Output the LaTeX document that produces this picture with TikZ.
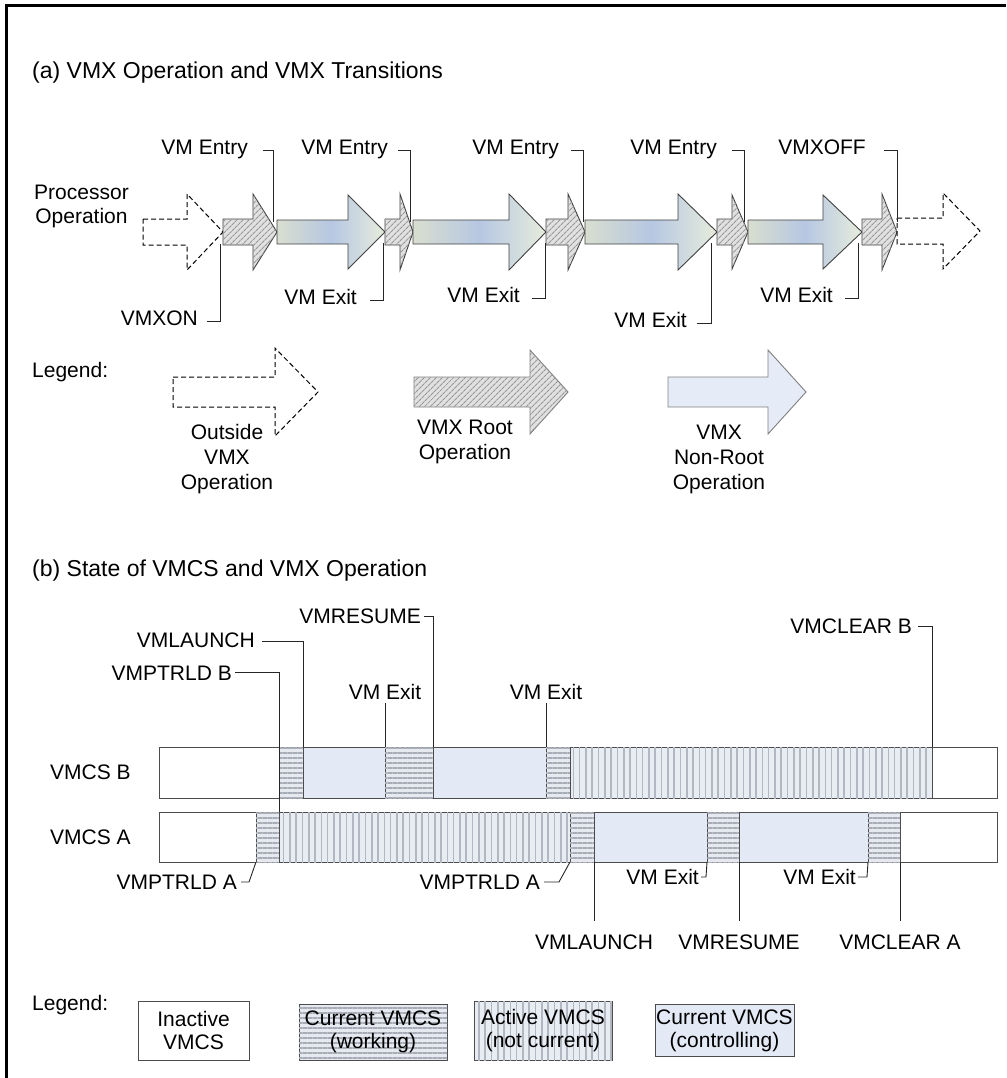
\documentclass[tikz,border=0pt]{standalone}
\usepackage{fontspec}
\setmainfont{Liberation Sans}
\usetikzlibrary{patterns.meta}
\definecolor{hatchbg}{HTML}{E1E1E1}
\definecolor{hatchln}{HTML}{989898}
\definecolor{hbg}{HTML}{E6EAF0}
\definecolor{hln}{HTML}{A8ACB6}
\definecolor{vbg}{HTML}{E8ECF3}
\definecolor{vln}{HTML}{B3B7C1}
\definecolor{ctrlblue}{HTML}{E3EAF5}
\definecolor{gradL}{HTML}{D8DECF}
\definecolor{gradM}{HTML}{B6C7E2}
\definecolor{gradR}{HTML}{E6ECDC}
\definecolor{nonroot}{HTML}{E6ECF7}
\newcommand{\blockarrow}[7]{\path[#1] (#2,#5-#6) -- (#3,#5-#6) -- (#3,#5-#7) -- (#4,#5) -- (#3,#5+#7) -- (#3,#5+#6) -- (#2,#5+#6) -- cycle;}
\newcommand{\barseg}[5]{\path[#1] (#2,#4) rectangle (#3,#5);}
\tikzset{
  lbl/.style={font=\fontsize{21}{24}\selectfont, inner sep=0pt, text height=15pt, text depth=0pt},
  mlbl/.style={font=\fontsize{21}{25}\selectfont, inner sep=0pt, align=center},
  ttl/.style={font=\fontsize{23}{27}\selectfont, inner sep=0pt, anchor=west, text height=16.5pt, text depth=0pt},
  leader/.style={draw=black!85, line width=0.9pt},
  dasharr/.style={draw=black, line width=1pt, dash pattern=on 5pt off 3pt, fill=white},
  hatcharr/.style={draw=black!75, line width=0.9pt, fill=hatchbg,
     postaction={pattern={Lines[angle=45,distance=4pt,line width=1.1pt]}, pattern color=hatchln}},
  hatchleg/.style={draw=black!50, line width=0.9pt, fill=hatchbg,
     postaction={pattern={Lines[angle=45,distance=4pt,line width=1.1pt]}, pattern color=hatchln}},
  gradarr/.style={draw=black!75, line width=0.9pt, left color=gradL, right color=gradR, middle color=gradM},
  nonrootarr/.style={draw=black!50, line width=0.9pt, fill=nonroot},
  wseg/.style={draw=black!70, line width=0.9pt, fill=white},
  hseg/.style={draw=black!70, line width=0.9pt, fill=hbg,
     postaction={pattern={Lines[angle=0,distance=5pt,line width=1.4pt]}, pattern color=hln}},
  vseg/.style={draw=black!70, line width=0.9pt, fill=vbg,
     postaction={pattern={Lines[angle=90,distance=6.3pt,line width=1.6pt]}, pattern color=vln}},
  bseg/.style={draw=black!70, line width=0.9pt, fill=ctrlblue},
  legbox/.style={draw=black!70, line width=0.9pt, minimum height=57pt, inner sep=0pt, align=center,
     font=\fontsize{21}{23}\selectfont},
}
\begin{document}
\begin{tikzpicture}[x=1pt,y=-1pt]
\useasboundingbox (0,0) rectangle (1006,1078);
\fill[white] (0,0) rectangle (1006,1078);
\draw[line width=2.5pt] (6.3,1078) -- (6.3,5.5) -- (1006,5.5);

% ---------------- (a) ----------------
\node[ttl] (ta) at (32,70) {(a) VMX Operation and VMX Transitions};

\blockarrow{dasharr}{143}{187}{223}{232}{13}{38}
\blockarrow{hatcharr}{223}{253}{277}{232}{13}{38}
\blockarrow{gradarr}{277}{348}{385}{232}{12}{37}
\blockarrow{hatcharr}{385}{400}{413}{232}{13}{38}
\blockarrow{gradarr}{413}{509}{546}{232}{12}{38}
\blockarrow{hatcharr}{546}{568}{585}{232}{13}{38}
\blockarrow{gradarr}{585}{678}{717}{232}{12}{38}
\blockarrow{hatcharr}{717}{732}{748}{232}{13}{37}
\blockarrow{gradarr}{748}{823}{862}{232}{12}{37}
\blockarrow{hatcharr}{862}{882}{897}{232}{13}{38}
\blockarrow{dasharr}{897}{943}{980}{231}{13}{38}

\node[mlbl, font=\fontsize{21}{24}\selectfont] (proc) at (81.5,206) {Processor\\Operation};

\node[lbl,anchor=east] (en1) at (248,147) {VM Entry};
\node[lbl,anchor=east] (en2) at (388,147) {VM Entry};
\node[lbl,anchor=east] (en3) at (559,147) {VM Entry};
\node[lbl,anchor=east] (en4) at (717,147) {VM Entry};
\node[lbl,anchor=east] (en5) at (866,147) {VMXOFF};
\coordinate (jn1) at (273,222);
\coordinate (jn2) at (410,222);
\coordinate (jn3) at (583,222);
\coordinate (jn4) at (744,222);
\coordinate (jn5) at (897,222);
\draw[leader] (en1.east) ++(15,3) -| (jn1);
\draw[leader] (en2.east) ++(10,3) -| (jn2);
\draw[leader] (en3.east) ++(12,3) -| (jn3);
\draw[leader] (en4.east) ++(15,3) -| (jn4);
\draw[leader] (en5.east) ++(18,3) -| (jn5);

\node[lbl,anchor=east] (xon) at (198,318) {VMXON};
\node[lbl,anchor=east] (ex1) at (357,297) {VM Exit};
\node[lbl,anchor=east] (ex2) at (520,295) {VM Exit};
\node[lbl,anchor=east] (ex3) at (687,320) {VM Exit};
\node[lbl,anchor=east] (ex4) at (833,295) {VM Exit};
\coordinate (jx0) at (220,244);
\coordinate (jx1) at (383,243);
\coordinate (jx2) at (545,243);
\coordinate (jx3) at (711,243);
\coordinate (jx4) at (858,243);
\draw[leader] (xon.east) ++(9,3) -| (jx0);
\draw[leader] (ex1.east) ++(13,3) -| (jx1);
\draw[leader] (ex2.east) ++(12,3) -| (jx2);
\draw[leader] (ex3.east) ++(10,3) -| (jx3);
\draw[leader] (ex4.east) ++(12,3) -| (jx4);

% legend (a)
\node[lbl,anchor=west] (lega) at (32,370) {Legend:};
\blockarrow{dasharr}{173}{275}{318}{392}{15}{44}
\blockarrow{hatchleg}{414}{530}{568}{392}{15}{42}
\blockarrow{nonrootarr}{668}{768}{806}{392}{15}{42}
\node[mlbl] (lo) at (227,459) {Outside\\VMX\\Operation};
\node[mlbl] (lr) at (465,441.5) {VMX Root\\Operation};
\node[mlbl] (ln) at (719,459) {VMX\\Non-Root\\Operation};

% ---------------- (b) ----------------
\node[ttl] (tb) at (32,568) {(b) State of VMCS and VMX Operation};

% VMCS B
\barseg{wseg}{159}{279}{747}{798}
\barseg{hseg}{279}{303}{747}{798}
\barseg{bseg}{303}{385}{747}{798}
\barseg{hseg}{385}{433}{747}{798}
\barseg{bseg}{433}{546}{747}{798}
\barseg{hseg}{546}{570}{747}{798}
\barseg{vseg}{570}{932}{747}{798}
\barseg{wseg}{932}{997}{747}{798}
% VMCS A
\barseg{wseg}{159}{256}{812}{862}
\barseg{hseg}{256}{279}{812}{862}
\barseg{vseg}{279}{570}{812}{862}
\barseg{hseg}{570}{594}{812}{862}
\barseg{bseg}{594}{707}{812}{862}
\barseg{hseg}{707}{739}{812}{862}
\barseg{bseg}{739}{868}{812}{862}
\barseg{hseg}{868}{900}{812}{862}
\barseg{wseg}{900}{997}{812}{862}

\node[lbl,anchor=west] (vb) at (50,772) {VMCS B};
\node[lbl,anchor=west] (va) at (50,837) {VMCS A};

% top labels (b)
\node[lbl,anchor=east] (res1) at (421,616) {VMRESUME};
\node[lbl,anchor=east] (lau1) at (255,640) {VMLAUNCH};
\node[lbl,anchor=east] (ptb) at (232,673) {VMPTRLD B};
\node[lbl] (vx1) at (385,692) {VM Exit};
\node[lbl] (vx2) at (546,692) {VM Exit};
\node[lbl,anchor=east] (clb) at (912,626) {VMCLEAR B};
\coordinate (jb1) at (433,747);
\coordinate (jb2) at (303,747);
\coordinate (jb3) at (279,812);
\coordinate (jb4) at (385,747);
\coordinate (jb5) at (546,747);
\coordinate (jb6) at (932,747);
\draw[leader] (res1.east) ++(3,0) -| (jb1);
\draw[leader] (lau1.east) ++(7,1) -| (jb2);
\draw[leader] (ptb.east) ++(3,-1) -| (jb3);
\draw[leader, shorten <=3.5pt] (vx1.south) -- (jb4);
\draw[leader, shorten <=3.5pt] (vx2.south) -- (jb5);
\draw[leader] (clb.east) ++(6,0) -| (jb6);

% bottom labels (b)
\node[lbl,anchor=east] (pta1) at (237,882) {VMPTRLD A};
\node[lbl,anchor=east] (pta2) at (540,882) {VMPTRLD A};
\node[lbl,anchor=east] (vx3) at (699,877) {VM Exit};
\node[lbl,anchor=east] (vx4) at (856,877) {VM Exit};
\node[lbl] (lau2) at (594,942) {VMLAUNCH};
\node[lbl] (res2) at (739,942) {VMRESUME};
\node[lbl] (cla) at (900,942) {VMCLEAR A};
\coordinate (ja1) at (256,862);
\coordinate (ja2) at (570,862);
\coordinate (ja3) at (707,862);
\coordinate (ja4) at (868,862);
\coordinate (ja5) at (594,862);
\coordinate (ja6) at (739,862);
\coordinate (ja7) at (900,862);
\draw[leader] (pta1.east) ++(4,0) -- ++(8,0) -- (ja1);
\draw[leader] (pta2.east) ++(4,0) -- ++(15,0) -- (ja2);
\draw[leader] (vx3.east) ++(2,0) -- ++(5,0) -- (ja3);
\draw[leader] (vx4.east) ++(2,0) -- ++(9,0) -- (ja4);
\draw[leader, shorten >=13pt] (ja5) -- (lau2.north);
\draw[leader, shorten >=13pt] (ja6) -- (res2.north);
\draw[leader, shorten >=13pt] (ja7) -- (cla.north);

% legend (b)
\node[lbl,anchor=west] (legb) at (32,1003) {Legend:};
\node[legbox, fill=white, minimum width=111pt, minimum height=59pt] (lb1) at (193.5,1030.5) {Inactive\\VMCS};
\node[legbox, fill=hbg, minimum width=148pt, minimum height=56pt,
   postaction={pattern={Lines[angle=0,distance=5pt,line width=1.4pt]}, pattern color=hln}]
   (lb2) at (373,1032) {Current VMCS\\(working)};
\node[legbox, fill=vbg, minimum width=138pt, minimum height=59pt,
   postaction={pattern={Lines[angle=90,distance=6.3pt,line width=1.6pt]}, pattern color=vln}]
   (lb3) at (543,1030.5) {Active VMCS\\(not current)};
\node[legbox, fill=ctrlblue, minimum width=139pt, minimum height=52pt] (lb4) at (724.5,1030.5) {Current VMCS\\(controlling)};
\end{tikzpicture}
\end{document}
